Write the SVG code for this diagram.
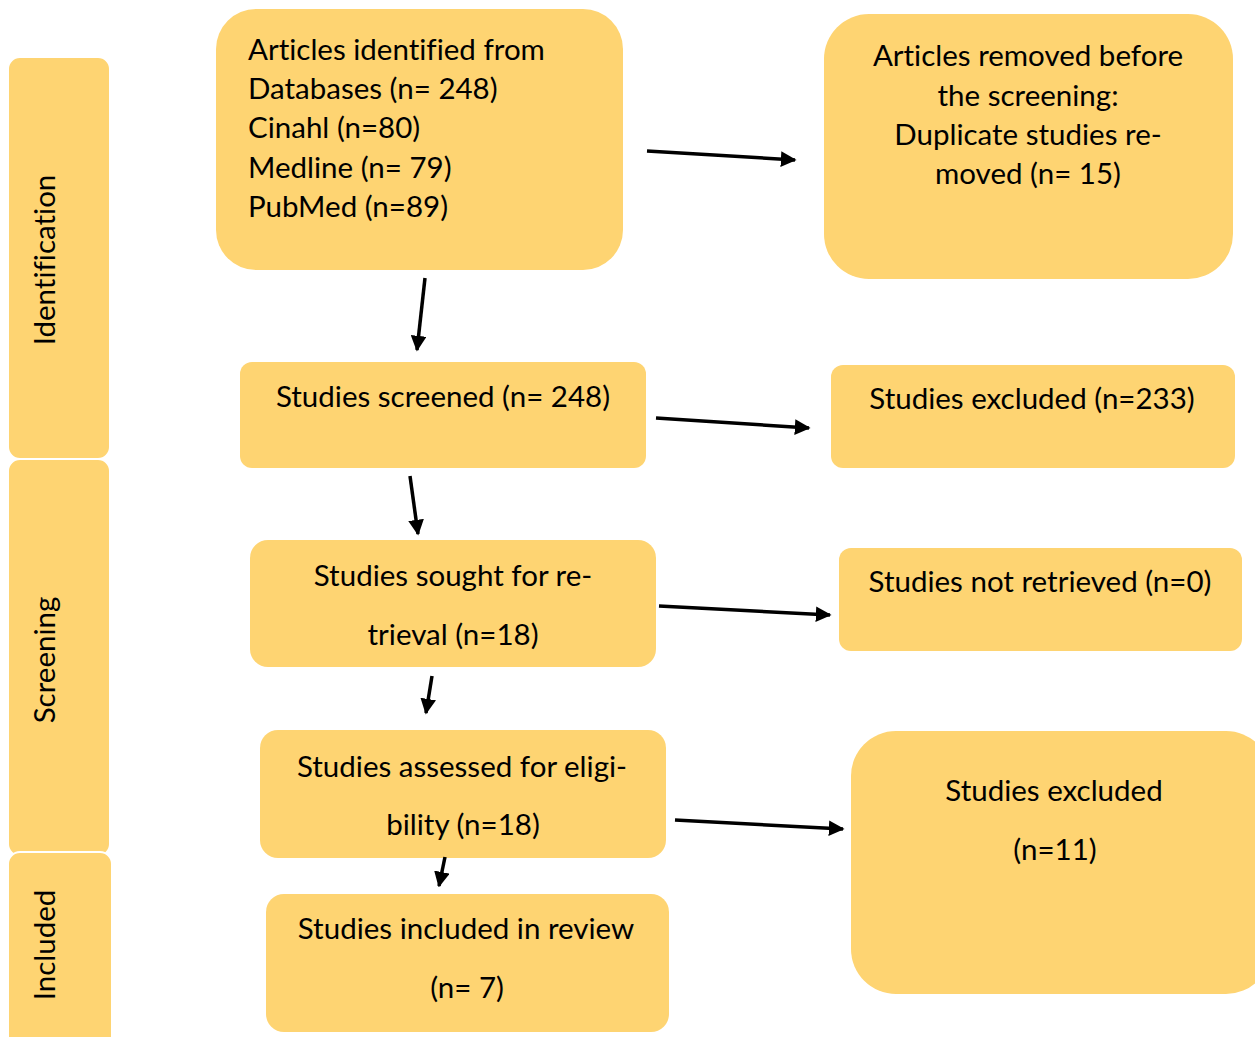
<svg xmlns="http://www.w3.org/2000/svg" width="1255" height="1037" viewBox="0 0 1255 1037">
<style>
.b{fill:#FED472}
.s{fill:#FED472;stroke:#fff;stroke-width:2}
text{font-family:Lato,"Open Sans","Liberation Sans",sans-serif;font-size:29.5px;fill:#000;font-variant-ligatures:none}
.c{text-anchor:middle}
.e{stroke:#000;stroke-width:3.5;fill:none;marker-end:url(#ah)}
</style>
<defs>
<marker id="ah" viewBox="0 0 10 10" refX="9" refY="5" markerWidth="4.5" markerHeight="4.5" orient="auto" markerUnits="strokeWidth">
<path d="M0,0 L10,5 L0,10 z" fill="#000"/>
</marker>
</defs>
<rect width="1255" height="1037" fill="#fff"/>
<g id="phase-identification"><rect class="s" x="8" y="57" width="102" height="402" rx="12"/><text class="c" transform="translate(55,260) rotate(-90)">Identification</text></g>
<g id="phase-screening"><rect class="s" x="8" y="459" width="102" height="397" rx="12"/><text class="c" transform="translate(55,660) rotate(-90)">Screening</text></g>
<g id="phase-included"><rect class="s" x="8" y="852" width="104" height="200" rx="12"/><text class="c" transform="translate(55,945) rotate(-90)">Included</text></g>

<g id="n1"><rect class="b" x="216" y="9" width="407" height="261" rx="40"/>
<text x="248" y="60">Articles identified from</text>
<text x="248" y="99">Databases (n= 248)</text>
<text x="248" y="138">Cinahl (n=80)</text>
<text x="248" y="178">Medline (n= 79)</text>
<text x="248" y="217">PubMed (n=89)</text></g>
<g id="n2"><rect class="b" x="824" y="14" width="409" height="265" rx="45"/>
<text class="c" x="1028" y="66">Articles removed before</text>
<text class="c" x="1028" y="106">the screening:</text>
<text class="c" x="1028" y="145">Duplicate studies re-</text>
<text class="c" x="1028" y="184">moved (n= 15)</text></g>
<g id="n3"><rect class="b" x="240" y="362" width="406" height="106" rx="12"/>
<text class="c" x="443" y="407">Studies screened (n= 248)</text></g>
<g id="n4"><rect class="b" x="831" y="365" width="404" height="103" rx="12"/>
<text class="c" x="1032" y="409">Studies excluded (n=233)</text></g>
<g id="n5"><rect class="b" x="250" y="540" width="406" height="127" rx="18"/>
<text class="c" x="453" y="586">Studies sought for re-</text>
<text class="c" x="453" y="645">trieval (n=18)</text></g>
<g id="n6"><rect class="b" x="839" y="548" width="403" height="103" rx="12"/>
<text class="c" x="1040" y="592">Studies not retrieved (n=0)</text></g>
<g id="n7"><rect class="b" x="260" y="730" width="406" height="128" rx="18"/>
<text class="c" x="462" y="777">Studies assessed for eligi-</text>
<text class="c" x="463" y="835">bility (n=18)</text></g>
<g id="n8"><rect class="b" x="851" y="731" width="420" height="263" rx="45"/>
<text class="c" x="1054" y="801">Studies excluded</text>
<text class="c" x="1055" y="860">(n=11)</text></g>
<g id="n9"><rect class="b" x="266" y="894" width="403" height="138" rx="18"/>
<text class="c" x="466" y="939">Studies included in review</text>
<text class="c" x="467" y="998">(n= 7)</text></g>

<g id="connectors">
<line class="e" x1="647" y1="151" x2="795" y2="160"/>
<line class="e" x1="425" y1="278" x2="417" y2="350"/>
<line class="e" x1="656" y1="418" x2="809" y2="428"/>
<line class="e" x1="410" y1="476" x2="418" y2="534"/>
<line class="e" x1="659" y1="606" x2="830" y2="615"/>
<line class="e" x1="432" y1="676" x2="426" y2="713"/>
<line class="e" x1="675" y1="820" x2="843" y2="829"/>
<line class="e" x1="445" y1="857" x2="439" y2="886"/>
</g>
</svg>
